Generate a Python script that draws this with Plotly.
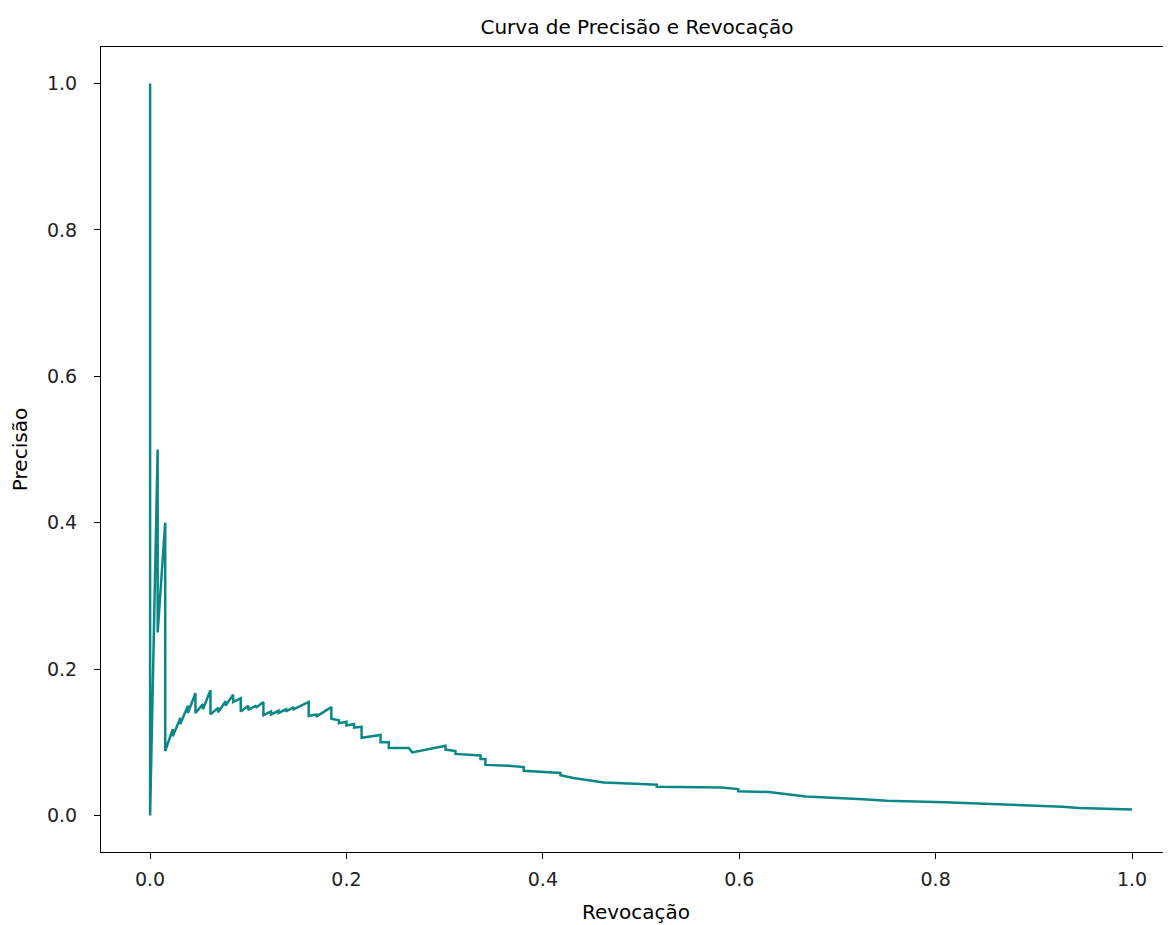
import plotly.graph_objects as go

recall = [0.0, 0.0, 0.0077, 0.0077, 0.0154, 0.0154,
          0.0231, 0.0231, 0.0308, 0.0308, 0.0385, 0.0385,
          0.0462, 0.0462, 0.0538, 0.0538, 0.0615, 0.0615,
          0.0692, 0.0692, 0.0769, 0.0769, 0.0846, 0.0846,
          0.0923, 0.0923, 0.1000, 0.1000, 0.1077, 0.1077,
          0.1154, 0.1154, 0.1231, 0.1231, 0.1308, 0.1308,
          0.1385, 0.1385, 0.1462, 0.1462, 0.1538, 0.1615,
          0.1615, 0.1692, 0.1692, 0.1846, 0.1846,
          0.1923, 0.1923, 0.2000, 0.2000, 0.2077, 0.2077,
          0.2154, 0.2154, 0.2347, 0.2347, 0.2431, 0.2431,
          0.2635, 0.2669, 0.3008, 0.3008, 0.3110, 0.3110,
          0.3365, 0.3365, 0.3415, 0.3415, 0.3650, 0.3805,
          0.3805, 0.4179, 0.4179, 0.4310, 0.4620, 0.5000,
          0.5160, 0.5160, 0.5817, 0.5990, 0.5990, 0.6300,
          0.6505, 0.6677, 0.7262, 0.7503, 0.8087, 0.8637,
          0.9290, 0.9460, 1.0000]

precision = [1.0, 0.0, 0.500, 0.250, 0.400, 0.088,
             0.118, 0.108, 0.133, 0.125, 0.150, 0.140,
             0.167, 0.140, 0.152, 0.145, 0.171, 0.138,
             0.147, 0.141, 0.156, 0.150, 0.165, 0.155,
             0.160, 0.142, 0.150, 0.144, 0.150, 0.147,
             0.155, 0.137, 0.142, 0.138, 0.143, 0.140,
             0.145, 0.142, 0.148, 0.145, 0.150, 0.155,
             0.136, 0.138, 0.135, 0.148, 0.132,
             0.130, 0.126, 0.128, 0.123, 0.125, 0.120,
             0.121, 0.106, 0.110, 0.100, 0.100, 0.092,
             0.092, 0.086, 0.095, 0.090, 0.088, 0.084,
             0.082, 0.077, 0.077, 0.069, 0.068, 0.066,
             0.061, 0.058, 0.055, 0.051, 0.045, 0.043,
             0.042, 0.039, 0.038, 0.036, 0.033, 0.032,
             0.029, 0.026, 0.022, 0.020, 0.018, 0.015,
             0.012, 0.010, 0.008]

x_ticks = [0.0, 0.2, 0.4, 0.6, 0.8, 1.0]
y_ticks = [0.0, 0.2, 0.4, 0.6, 0.8, 1.0]

FONT = "DejaVu Sans"

W, H = 1163, 917  # page has an 8px body margin

fig = go.Figure()
fig.add_trace(go.Scatter(x=recall, y=precision, mode="lines",
                         line=dict(color="#0a8787", width=2.5),
                         showlegend=False, hoverinfo="skip"))

fig.update_layout(
    width=W, height=H,
    margin=dict(l=93, r=0, t=39, b=73),
    paper_bgcolor="white", plot_bgcolor="white",
    title=dict(text="Curva de Precisão e Revocação", x=(637 - 8) / W, xanchor="center",
               y=1 - 19 / H, yanchor="middle",
               font=dict(family=FONT, size=20, color="black")),
    font=dict(family=FONT, color="black"),
)
fig.update_xaxes(range=[-0.05, 1.0397], tickvals=x_ticks,
                 ticktext=[f"{v:.1f}" for v in x_ticks],
                 showgrid=False, zeroline=False,
                 showline=True, linecolor="black", linewidth=1.2, mirror=True,
                 ticks="outside", ticklen=6, tickcolor="black",
                 ticklabelstandoff=4,
                 tickfont=dict(family=FONT, size=19, color="#222"),
                 title=dict(text="Revocação", font=dict(family=FONT, size=20, color="black"),
                            standoff=16))
fig.update_yaxes(range=[-0.05, 1.05], tickvals=y_ticks,
                 ticktext=[f"{v:.1f}" for v in y_ticks],
                 showgrid=False, zeroline=False,
                 showline=True, linecolor="black", linewidth=1.2,
                 ticks="outside", ticklen=6, tickcolor="black",
                 ticklabelstandoff=13,
                 tickfont=dict(family=FONT, size=19, color="#222"),
                 title=dict(text="Precisão", font=dict(family=FONT, size=20, color="black"),
                            standoff=13))

fig.write_html("out.html")
